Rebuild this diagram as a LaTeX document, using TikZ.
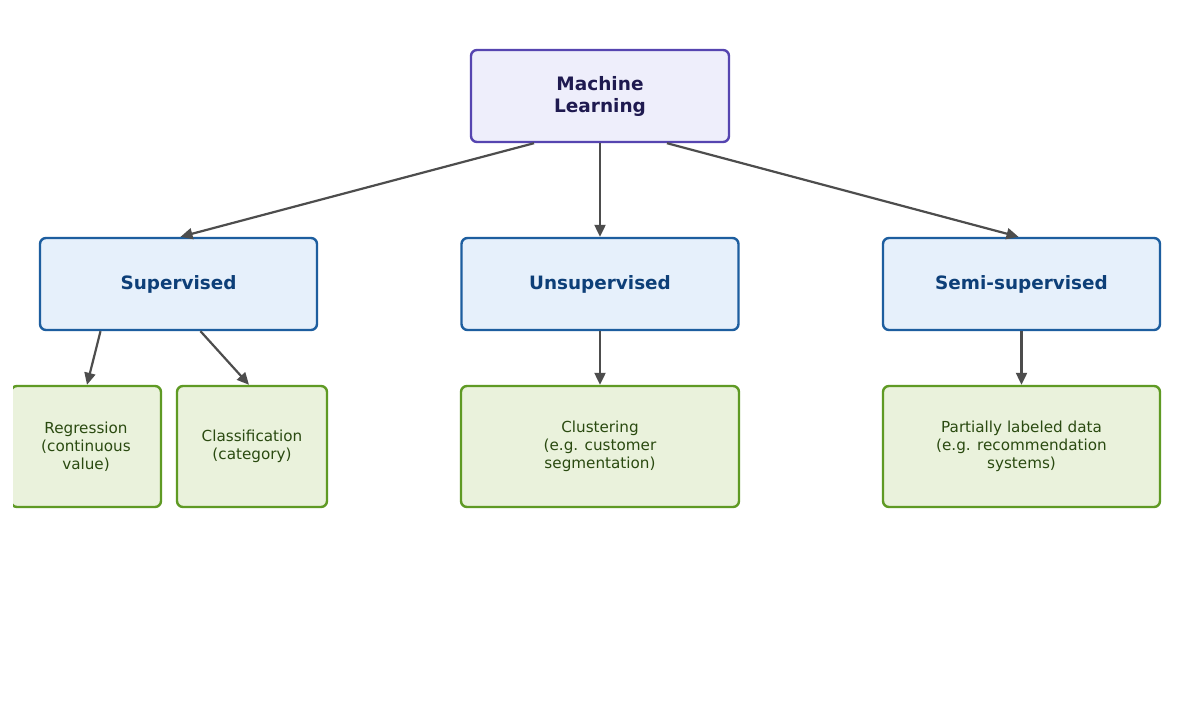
\documentclass[tikz,border=0pt]{standalone}
\usepackage{fontspec}
\setmainfont{DejaVu Sans}
\usepackage{tikz}
\usetikzlibrary{calc,arrows.meta}
\definecolor{rootfill}{HTML}{EEEEFB}
\definecolor{rootline}{HTML}{5645B0}
\definecolor{roottext}{HTML}{1F1A50}
\definecolor{catfill}{HTML}{E6F0FB}
\definecolor{catline}{HTML}{1D5E9F}
\definecolor{cattext}{HTML}{0D3F78}
\definecolor{leaffill}{HTML}{EAF2DC}
\definecolor{leafline}{HTML}{5F9A24}
\definecolor{leaftext}{HTML}{2A4A10}
\definecolor{arrowgray}{HTML}{4D4D4D}
\begin{document}
\begin{tikzpicture}[x=1pt,y=-1pt,
    rootbox/.style={draw=rootline, fill=rootfill, line width=2.4pt, rounded corners=6pt,
      minimum width=258pt, minimum height=92pt, inner sep=0pt, align=center,
      text=roottext, font=\fontsize{18.5}{22}\selectfont\bfseries},
    catbox/.style={draw=catline, fill=catfill, line width=2.4pt, rounded corners=6pt,
      minimum width=277pt, minimum height=92pt, inner sep=0pt, align=center,
      text=cattext, font=\fontsize{18.4}{22}\selectfont\bfseries},
    leafbox/.style={draw=leafline, fill=leaffill, line width=2.4pt, rounded corners=6pt,
      minimum height=121pt, inner sep=0pt, align=center,
      text=leaftext, font=\fontsize{15.2}{18}\selectfont},
    link/.style={-{Triangle[length=12pt,width=11pt]}, line width=2.2pt, draw=arrowgray}]
      \useasboundingbox (0,0) rectangle (1200,716);
      \fill[white] (0,0) rectangle (1200,716);
      \begin{scope}
      \clip (13,0) rectangle (1200,716);
      % root
      \node[rootbox] (ml) at (600, 96) {Machine\\Learning};
      % categories
      \node[catbox] (sup)  at (178.5, 284) {Supervised};
      \node[catbox] (uns)  at (600, 284)   {Unsupervised};
      \node[catbox] (semi) at (1021.5, 284) {Semi-supervised};
      % leaves
      \node[leafbox, minimum width=150pt] (reg) at (86, 446.5) {Regression\\(continuous\\value)};
      \node[leafbox, minimum width=150pt] (cls) at (252, 446.5) {Classification\\(category)};
      \node[leafbox, minimum width=278pt] (clu) at (600, 446.5) {Clustering\\(e.g. customer\\segmentation)};
      \node[leafbox, minimum width=277pt] (par) at (1021.5, 446.5) {Partially labeled data\\(e.g. recommendation\\systems)};
      % root -> categories
      \draw[link] ($(ml.south)+(-66,0)$) -- ($(sup.north)+(2,0)$);
      \draw[link] (ml.south) -- (uns.north);
      \draw[link] ($(ml.south)+(67,0)$) -- ($(semi.north)+(-3,0)$);
      % categories -> leaves
      \draw[link] ($(sup.south)+(-78,0)$) -- ($(reg.north)+(1,0)$);
      \draw[link] ($(sup.south)+(22,0)$) -- ($(cls.north)+(-3,0)$);
      \draw[link] (uns.south) -- (clu.north);
      \draw[link] (semi.south) -- (par.north);
      \end{scope}
\end{tikzpicture}
\end{document}
